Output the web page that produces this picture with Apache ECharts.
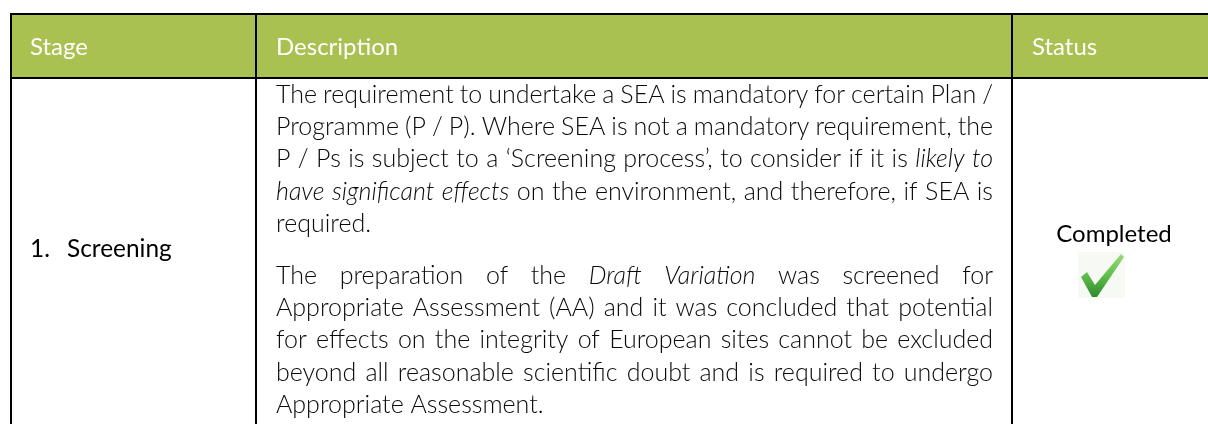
<!DOCTYPE html>
<html><head><meta charset="utf-8">
<script src="https://cdn.jsdelivr.net/npm/echarts@6/dist/echarts.min.js"></script>
<style>html,body{margin:0;padding:0;background:#fff}#c{width:1208px;height:424px}</style>
</head><body><div id="c"></div>
<script>
// ---- table content ----
const headers = ['Stage', 'Description', 'Status'];
const stageNumber = '1.';
const stageName = 'Screening';
const statusLabel = 'Completed';
// *...* marks italic words
const para1 = [
  'The requirement to undertake a SEA is mandatory for certain Plan /',
  'Programme (P / P). Where SEA is not a mandatory requirement, the',
  'P / Ps is subject to a \u2018Screening process\u2019, to consider if it is *likely to*',
  '*have significant effects* on the environment, and therefore, if SEA is',
  'required.'
];
const para2 = [
  'The preparation of the *Draft Variation* was screened for',
  'Appropriate Assessment (AA) and it was concluded that potential',
  'for effects on the integrity of European sites cannot be excluded',
  'beyond all reasonable scientific doubt and is required to undergo',
  'Appropriate Assessment.'
];

// ---- layout / style ----
const FONT = 'Lato';
const headSize = 24;
const bodySize = 25;
const green = '#a9c150';
const textColor = '#0a0a0a';
const L = 11, T = 14, HB = 78, C1 = 256, C2 = 1012, R = 1230;
const txtL = 276, txtR = 993;
const p1Base = 102, p2Base = 283, lineStep = 32.4;

const ctx = document.createElement('canvas').getContext('2d');
function fontStr(it, size, w) { return (it ? 'italic ' : 'normal ') + (w || 300) + ' ' + size + 'px ' + FONT; }
function measure(t, f) { ctx.font = f; return ctx.measureText(t).width; }

const els = [];
els.push({ type: 'rect', shape: { x: L, y: T, width: R - L, height: HB - T }, style: { fill: green } });

headers.forEach((h, i) => {
  const x = [30, txtL, 1032][i];
  els.push({ type: 'text', x: x, y: 47, style: { text: h, font: fontStr(false, headSize, 400), fill: '#fff', textAlign: 'left', textVerticalAlign: 'middle' } });
});

function addPara(lines, base) {
  lines.forEach((line, li) => {
    const raw = line.split(' ');
    let it = false;
    const words = raw.map(w => {
      let t = w, thisIt = it;
      if (t.startsWith('*')) { thisIt = true; it = true; t = t.slice(1); }
      if (t.endsWith('*')) { t = t.slice(0, -1); it = false; }
      return { t, it: thisIt };
    });
    words.forEach(w => { w.f = fontStr(w.it, bodySize); w.w = measure(w.t, w.f); });
    const sum = words.reduce((a, w) => a + w.w, 0);
    const last = li === lines.length - 1;
    const sp = measure(' ', fontStr(false, bodySize));
    const gap = last ? sp : Math.max(sp * 0.6, (txtR - txtL - sum) / (words.length - 1));
    let x = txtL;
    const y = base + li * lineStep - 7.5;
    words.forEach(w => {
      els.push({ type: 'text', x: x, y: y, style: { text: w.t, font: w.f, fill: textColor, textAlign: 'left', textVerticalAlign: 'middle' } });
      x += w.w + gap;
    });
  });
}
addPara(para1, p1Base);
addPara(para2, p2Base);

els.push({ type: 'text', x: 30, y: 249, style: { text: stageNumber, font: fontStr(false, 24.4, 400), fill: '#000', textVerticalAlign: 'middle' } });
els.push({ type: 'text', x: 67, y: 249, style: { text: stageName, font: fontStr(false, 24.4, 400), fill: '#000', textVerticalAlign: 'middle' } });
els.push({ type: 'text', x: 1114, y: 234, style: { text: statusLabel, font: fontStr(false, headSize, 400), fill: '#000', textAlign: 'center', textVerticalAlign: 'middle' } });

// check mark
els.push({ type: 'rect', shape: { x: 1078, y: 252, width: 47, height: 46 }, style: { fill: '#f7f9f5' } });
els.push({
  type: 'polygon',
  shape: { points: [[1081, 277], [1087, 272], [1095, 285], [1121, 254], [1124, 257], [1097, 297], [1092, 297]] },
  style: { fill: new echarts.graphic.LinearGradient(0, 0, 0, 1, [{ offset: 0, color: '#9ad97c' }, { offset: 0.5, color: '#5fbf4a' }, { offset: 1, color: '#2e8a2e' }]) }
});

// borders
const bl = (x1, y1, x2, y2) => els.push({ type: 'line', shape: { x1, y1, x2, y2 }, style: { stroke: '#000', lineWidth: 2 } });
bl(L, T, R, T);
bl(L, HB, R, HB);
bl(L, T - 1, L, 430);
bl(C1, T, C1, 430);
bl(C2, T, C2, 430);

const chart = echarts.init(document.getElementById('c'), null, { renderer: 'canvas' });
chart.setOption({ animation: false, graphic: { elements: els } });
</script></body></html>
